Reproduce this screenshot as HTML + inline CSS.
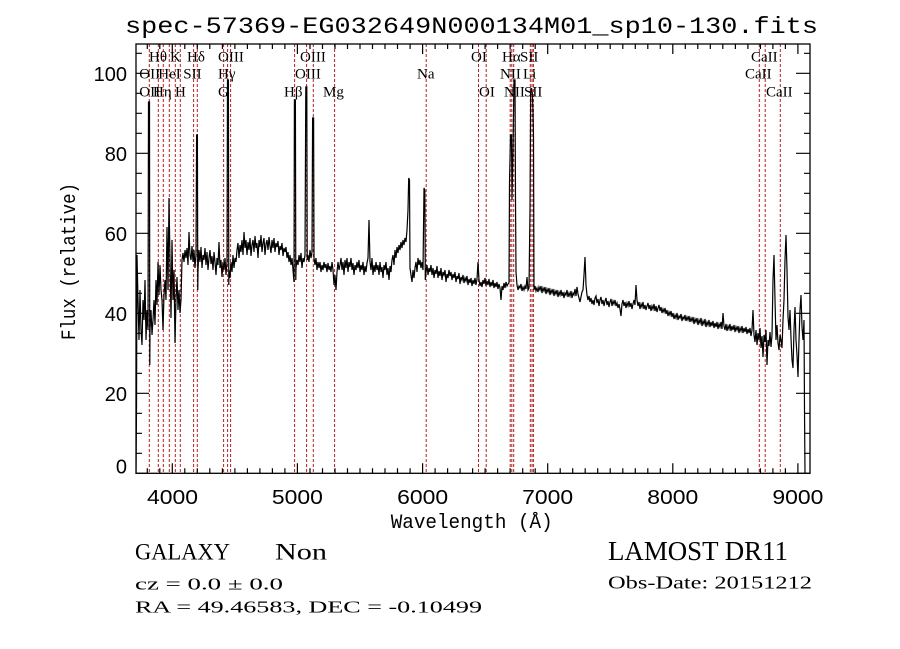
<!DOCTYPE html>
<html>
<head>
<meta charset="utf-8">
<style>
html,body{margin:0;padding:0;background:#fff;}
svg{display:block;}
</style>
</head>
<body>
<svg width="900" height="649" viewBox="0 0 900 649" xmlns="http://www.w3.org/2000/svg">
<rect width="900" height="649" fill="#fff"/>
<defs>
<clipPath id="pc"><rect x="136" y="44" width="674" height="429.3"/></clipPath>
</defs>

<!-- title -->
<text x="125" y="33" font-family="Liberation Mono, monospace" font-size="23" textLength="693" lengthAdjust="spacingAndGlyphs" fill="#000">spec-57369-EG032649N000134M01_sp10-130.fits</text>

<!-- red dashed lines -->
<g stroke="#b41e1e" stroke-width="1" stroke-dasharray="3,2" fill="none">
<path d="M149.3 44V473.3M158.3 44V473.3M163.3 44V473.3M169.3 44V473.3M175.3 44V473.3M180.3 44V473.3M193.6 44V473.3M197.3 44V473.3M223.6 44V473.3M227.6 44V473.3M230.6 44V473.3M294.6 44V473.3M306.6 44V473.3M313.3 44V473.3M334.6 44V473.3M426.2 44V473.3M478.5 44V473.3M486.2 44V473.3M510.2 44V473.3M511.8 44V473.3M513.7 44V473.3M530.3 44V473.3M532 44V473.3M533.4 44V473.3M759.3 44V473.3M765.2 44V473.3M780.3 44V473.3"/>
</g>

<!-- spectrum -->
<g clip-path="url(#pc)">
<polyline fill="none" stroke="#000" stroke-width="1.2" stroke-linejoin="miter" points="
136,473 136.5,410 137,255 138,300 139,340 140,290 141,330 142,345 143,300 144,320 145,280 146,340 147,310 148,330 148.5,102 149.5,102 149.8,365 150,330 151,310 152,335 153,320 154,300 155,325 156,280 157,305 158,262 159,295 160,265 161,290 162,300 163,330 164,295 165,280 166,300 167,227 168,290 169,198 170,260 171,318 172,240 173,300 174,270 175,343 176,300 177,277 178,310 179,290 180,313 181,300 182,260 183,253
184,262 185,250 186,258 187,248 188,265 189,232 190,255 191,260 192,246 193,262 194,250 195,268 196,255 196.6,135 197.4,135 197.8,290 198,270 199,250 200,262 201,247 202,268 203,255 204,260 205,248 206,265 207,252 208,270 209,258 210,250 211,264 212,256 213,270 214,252 215,262 216,275 217,258 218,265 219,242 220,268 221,260 222,277 223,262 224,270 225,258 226,275 227,262 227.5,80 228.4,80 228.8,285 229,270 230,278 231,262 232,272 233,255 234,268 235,258 236,262 237,250
238,243 239,258 240,245 241,252 242,240 243,255 244,232 245,248 246,240 247,255 248,242 249,250 250,238 251,256 252,245 253,240 254,252 255,236 256,248 257,243 258,258 259,240 260,247 261,235 262,252 263,243 264,238 265,255 266,244 267,240 268,250 269,237 270,246 271,253 272,240 273,248 274,238 275,252 276,243 277,247 278,241 279,255 280,246 281,250 282,243 283,256 284,248 285,252 286,247 287,258 288,252 289,262 290,255
291,265 292,258 293,270 294,282 294.4,100 295.4,100 295.8,280 296,268 297,260 298,265 299,255 300,262 301,253 302,268 303,258 304,262 305,255 305.8,87 306.8,87 307.2,260 308,255 309,262 310,250 311,258 312,252 312.6,118 313.6,118 314,258 315,265 316,258 317,270 318,262 319,268 320,262 321,272 322,265 323,270 324,262 325,268 326,264 327,272 328,263 329,270 330,266 331,272 332,262 333,270 334,285 335,275 336,290 337,272 338,262 339,270 340,265
341,258 342,270 343,262 344,275 345,260 346,268 347,258 348,272 349,262 350,267 351,258 352,270 353,263 354,275 355,265 356,270 357,262 358,268 359,260 360,272 361,265 362,270 363,262 364,275 365,266 366,272 367,263 368,258 369,220 370,262 371,270 372,258 373,275 374,265 375,272 376,262 377,270 378,265 379,275 380,262 381,272 382,267 383,278 384,265 385,270 386,262 387,275 388,268 389,280 390,266 391,272 392,260 393,255 394,265 395,250 396,258 397,247 398,253 399,245 400,250 401,242 402,248 403,240 404,245 405,238 406,242 407,230 408,210 408.7,178 409.5,180 410,268 411,275 412,282 413,270 414,278 415,268 416,262 417,272 418,258 419,265 420,260 421,268 422,262 423,270 424,188 424.8,190 425.3,280 426,272 427,265 428,275 429,268 430,272
431,265 432,275 433,268 434,278 435,270 436,274 437,266 438,278 439,271 440,276 441,268 442,280 443,272 444,275 445,270 446,282 447,274 448,278 449,270 450,276 451,272 452,280 453,274 454,278 455,272 456,282 457,276 458,279 459,273 460,284 461,277 462,280 463,275 464,283 465,278 466,281 467,276 468,285 469,279 470,283 471,278 472,286 473,280 474,284 475,278 476,285 477,279 478,262 479,280 480,286 481,282 482,287 483,280 484,284 485,278 486,286 487,281 488,285 489,279 490,287 491,282 492,286 493,280 494,288 495,283 496,287 497,282 498,289 499,284 500,288 501,300 502,286 503,290 504,283 505,288 506,282 507,286 508,284 509,283 509.5,183 510.5,135 511.5,135 512,200 513,150 514,80 515,80 515.5,200 516,272 517,285 518,290 519,286 520,288 521,284 522,291 523,287 524,290 525,286 526,289 527,277 528,290 529,288 530,210 530.7,93 531.5,88 532.3,93 533,110 533.5,137 534,290
535,286 536,291 537,288 538,292 539,287 540,290 541,286 542,293 543,288 544,291 545,287 546,294 547,289 548,292 549,288 550,295 551,290 552,293 553,289 554,296 555,291 556,294 557,290 558,297 559,292 560,295 561,290 562,296 563,292 564,298 565,293 566,295 567,290 568,297 569,293 570,296 571,291 572,298 573,293 574,295 575,289 576,296 577,287 578,294 579,298 580,302 581,297 582,292 583,290 584,275 585,257 586,285 587,295 588,300 589,296 590,302 591,298 592,304 593,300 594,305 595,298 596,296 597,303 598,299 599,306 600,300 601,297 602,304 603,300 604,306 605,301 606,298 607,305 608,301 609,307 610,302 611,299 612,306 613,301 614,304 615,300 616,306 617,303 618,308 619,304 620,309 621,316 622,304 623,300 624,306 625,302 626,308 627,303 628,306 629,301 630,307 631,303 632,309 633,304 634,300 635,305 636,285 637,300 638,306 639,302 640,309 641,304 642,307 643,302 644,309 645,305 646,310 647,306 648,303 649,309 650,305 651,311 652,306 653,309 654,304 655,311 656,306 657,312 658,308 659,305 660,311 661,307 662,313 663,309 664,312 665,308 666,314 667,310 668,316 669,312 670,315 671,311 672,317 673,313 674,319 675,315 676,318 677,313 678,320 679,316 680,318 681,314 682,321 683,317 684,319 685,315 686,321 687,317 688,320 689,316 690,322 691,318 692,321 693,317 694,324 695,319 696,322 697,318 698,325 699,320 700,323 701,318 702,326 703,321 704,324 705,319 706,327 707,322 708,325 709,320 710,327 711,322 712,326 713,321 714,328 715,323 716,327 717,322 718,329 719,324 720,327 721,322 722,329 723,313 724,326 725,330 726,324 727,331 728,326 729,329 730,324 731,331 732,326 733,330 734,325 735,332 736,327 737,330 738,326 739,333 740,328 741,331 742,326 743,333 744,328 745,332 746,327 747,334 748,329 749,333 750,328 751,336 752,330 753,310 754,335 755,342 756,330 757,345 758,333 759,340 760,328 761,348 762,336 763,357 764,335 765,342 766,330 767,365 768,340 769,346 770,332 771,347 772,335 773,280 774,255 775,300 776,340 777,325 778,343 779,350 780,335 781,340 782,348 783,320 784,300 785,260 786,235 787,270 788,317 789,330 790,310 791,338 792,360 793,368 794,330 795,307 796,340 797,355 798,377 799,340 800,310 801,295 802,327 803,340 804,320 804.5,410 805,473"/>
</g>

<!-- frame -->
<rect x="136" y="44" width="674" height="429.3" fill="none" stroke="#000" stroke-width="1.3"/>

<!-- ticks -->
<g stroke="#000" stroke-width="1.2" fill="none">
<path d="M136 473.3H149M136 453.3H142M136 433.3H142M136 413.3H142M136 393.3H149M136 373.3H142M136 353.3H142M136 333.3H142M136 313.3H149M136 293.3H142M136 273.3H142M136 253.3H142M136 233.3H149M136 213.3H142M136 193.3H142M136 173.3H142M136 153.3H149M136 133.3H142M136 113.3H142M136 93.3H142M136 73.3H149M136 53.3H142"/>
<path d="M810 473.3H796M810 453.3H804M810 433.3H804M810 413.3H804M810 393.3H796M810 373.3H804M810 353.3H804M810 333.3H804M810 313.3H796M810 293.3H804M810 273.3H804M810 253.3H804M810 233.3H796M810 213.3H804M810 193.3H804M810 173.3H804M810 153.3H796M810 133.3H804M810 113.3H804M810 93.3H804M810 73.3H796M810 53.3H804"/>
<path d="M147.3 473.3v-5M159.8 473.3v-5M172.3 473.3v-10M184.8 473.3v-5M197.3 473.3v-5M209.8 473.3v-5M222.4 473.3v-5M234.9 473.3v-5M247.4 473.3v-5M259.9 473.3v-5M272.4 473.3v-5M284.9 473.3v-5M297.4 473.3v-10M310 473.3v-5M322.5 473.3v-5M335 473.3v-5M347.5 473.3v-5M360 473.3v-5M372.5 473.3v-5M385 473.3v-5M397.5 473.3v-5M410.1 473.3v-5M422.6 473.3v-10M435.1 473.3v-5M447.6 473.3v-5M460.1 473.3v-5M472.6 473.3v-5M485.1 473.3v-5M497.6 473.3v-5M510.1 473.3v-5M522.7 473.3v-5M535.2 473.3v-5M547.7 473.3v-10M560.2 473.3v-5M572.7 473.3v-5M585.2 473.3v-5M597.7 473.3v-5M610.2 473.3v-5M622.8 473.3v-5M635.3 473.3v-5M647.8 473.3v-5M660.3 473.3v-5M672.8 473.3v-10M685.3 473.3v-5M697.8 473.3v-5M710.3 473.3v-5M722.8 473.3v-5M735.4 473.3v-5M747.9 473.3v-5M760.4 473.3v-5M772.9 473.3v-5M785.4 473.3v-5M797.9 473.3v-10"/>
<path d="M147.3 44v5M159.8 44v5M172.3 44v10M184.8 44v5M197.3 44v5M209.8 44v5M222.4 44v5M234.9 44v5M247.4 44v5M259.9 44v5M272.4 44v5M284.9 44v5M297.4 44v10M310 44v5M322.5 44v5M335 44v5M347.5 44v5M360 44v5M372.5 44v5M385 44v5M397.5 44v5M410.1 44v5M422.6 44v10M435.1 44v5M447.6 44v5M460.1 44v5M472.6 44v5M485.1 44v5M497.6 44v5M510.1 44v5M522.7 44v5M535.2 44v5M547.7 44v10M560.2 44v5M572.7 44v5M585.2 44v5M597.7 44v5M610.2 44v5M622.8 44v5M635.3 44v5M647.8 44v5M660.3 44v5M672.8 44v10M685.3 44v5M697.8 44v5M710.3 44v5M722.8 44v5M735.4 44v5M747.9 44v5M760.4 44v5M772.9 44v5M785.4 44v5M797.9 44v10"/>
</g>

<!-- y tick labels -->
<g font-family="Liberation Sans, sans-serif" font-size="20" fill="#000" text-anchor="end">
<text x="127" y="80.8">100</text>
<text x="127" y="160.8">80</text>
<text x="127" y="240.8">60</text>
<text x="127" y="320.8">40</text>
<text x="127" y="400.8">20</text>
<text x="127" y="473.3">0</text>
</g>

<!-- x tick labels -->
<g font-family="Liberation Sans, sans-serif" font-size="20" fill="#000" text-anchor="middle">
<text x="172.5" y="504" textLength="51" lengthAdjust="spacingAndGlyphs">4000</text>
<text x="297.4" y="504" textLength="51" lengthAdjust="spacingAndGlyphs">5000</text>
<text x="422.6" y="504" textLength="51" lengthAdjust="spacingAndGlyphs">6000</text>
<text x="547.7" y="504" textLength="51" lengthAdjust="spacingAndGlyphs">7000</text>
<text x="672.8" y="504" textLength="51" lengthAdjust="spacingAndGlyphs">8000</text>
<text x="797.9" y="504" textLength="51" lengthAdjust="spacingAndGlyphs">9000</text>
</g>

<!-- axis titles -->
<text x="390.7" y="528" font-family="Liberation Mono, monospace" font-size="20" textLength="162" lengthAdjust="spacingAndGlyphs" fill="#000">Wavelength (Å)</text>
<text transform="translate(75,340) rotate(-90)" x="0" y="0" font-family="Liberation Mono, monospace" font-size="20" textLength="157" lengthAdjust="spacingAndGlyphs" fill="#000">Flux (relative)</text>

<!-- line labels -->
<g font-family="Liberation Serif, serif" font-size="15" fill="#000">
<text x="149" y="61.5">Hθ</text>
<text x="170" y="61.5">K</text>
<text x="187" y="61.5">Hδ</text>
<text x="218" y="61.5">OIII</text>
<text x="300" y="61.5">OIII</text>
<text x="471" y="61.5">OI</text>
<text x="502" y="61.5">Hα</text>
<text x="520" y="61.5">SII</text>
<text x="751" y="61.5">CaII</text>

<text x="139.3" y="78.3">OII</text>
<text x="158.3" y="78.3">HeI</text>
<text x="183.3" y="78.3">SII</text>
<text x="218" y="78.3">Hγ</text>
<text x="295" y="78.3">OIII</text>
<text x="417" y="78.3">Na</text>
<text x="500" y="78.3">NII</text>
<text x="523" y="78.3">Li</text>
<text x="745" y="78.3">CaII</text>

<text x="139.3" y="96.5">OII</text>
<text x="153" y="96.5">Hη</text>
<text x="175" y="96.5">H</text>
<text x="218" y="96.5">G</text>
<text x="284" y="96.5">Hβ</text>
<text x="323" y="96.5">Mg</text>
<text x="479" y="96.5">OI</text>
<text x="504" y="96.5">NII</text>
<text x="524" y="96.5">SII</text>
<text x="766" y="96.5">CaII</text>
</g>

<!-- bottom info -->
<g font-family="Liberation Serif, serif" fill="#000">
<text x="135" y="559.3" font-size="23" textLength="95" lengthAdjust="spacingAndGlyphs">GALAXY</text>
<text x="275" y="559.3" font-size="23" textLength="52" lengthAdjust="spacingAndGlyphs">Non</text>
<text x="135" y="589.3" font-size="17" textLength="148" lengthAdjust="spacingAndGlyphs">cz = 0.0 ± 0.0</text>
<text x="135" y="612.7" font-size="17" textLength="347" lengthAdjust="spacingAndGlyphs">RA =  49.46583, DEC =  -0.10499</text>
<text x="608" y="560" font-size="27" textLength="180" lengthAdjust="spacingAndGlyphs">LAMOST DR11</text>
<text x="608" y="588.3" font-size="18" textLength="204" lengthAdjust="spacingAndGlyphs">Obs-Date: 20151212</text>
</g>
</svg>
</body>
</html>
